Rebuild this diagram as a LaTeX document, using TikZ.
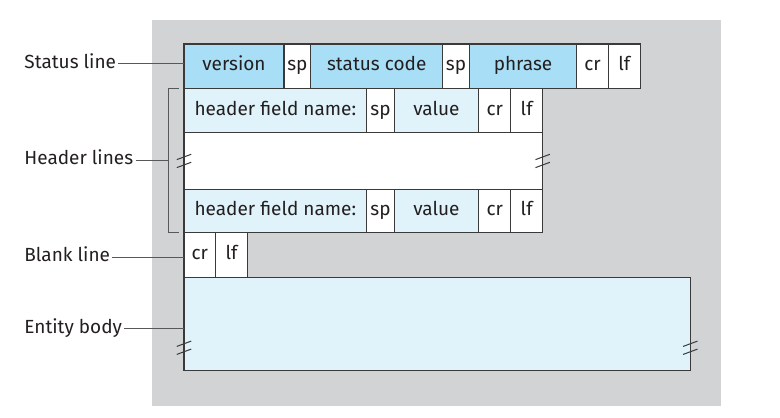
\documentclass[tikz,border=0pt]{standalone}
\usepackage{fontspec}
\setmainfont{Fira Sans}
\usetikzlibrary{positioning}
\definecolor{bggray}{HTML}{D1D3D4}
\definecolor{statblue}{HTML}{A9DEF7}
\definecolor{hdrblue}{HTML}{E0F3FA}
\definecolor{ink}{HTML}{231F20}
\definecolor{rule}{HTML}{3A3A3A}

\begin{document}
\begin{tikzpicture}[
  x=1pt,y=1pt,
  cell/.style={draw=rule,line width=0.6pt,minimum height=22.2pt,inner sep=0pt,
    outer sep=0pt,text=ink,anchor=west,text height=6.5pt,text depth=2pt,
    font=\fontsize{9.5}{11}\selectfont},
  status/.style={cell,fill=statblue},
  hdr/.style={cell,fill=hdrblue},
  plain/.style={cell,fill=white},
  tag/.style={text=ink,anchor=west,inner sep=1pt,text height=6.5pt,text depth=2pt,
    font=\fontsize{9.5}{11}\selectfont},
  lead/.style={draw=rule!85,line width=0.5pt},
  brk/.style={draw=rule,line width=0.5pt},
  breakmark/.pic={
    \draw[brk] (-3.6,0.67) -- (3.6,3.33);
    \draw[brk] (-3.6,-3.33) -- (3.6,-0.67);}
]
\useasboundingbox (0,0) rectangle (390,-208.5);
\fill[bggray] (76,-10) rectangle (360.5,-203);

\node[status,minimum width=50pt] (version) at (92,-33.1) {version};
\node[plain,minimum width=13.35pt,right=0pt of version] (sp1) {sp};
\node[status,minimum width=66pt,right=0pt of sp1] (code) {status code};
\node[plain,minimum width=13.3pt,right=0pt of code] (sp2) {sp};
\node[status,minimum width=53.7pt,right=0pt of sp2] (phrase) {phrase};
\node[plain,minimum width=15.8pt,right=0pt of phrase] (scr) {cr};
\node[plain,minimum width=16pt,right=0pt of scr] (slf) {lf};

\node[hdr,minimum width=91.35pt,anchor=north west] (hfn1) at (version.south west) {header field name:};
\node[plain,minimum width=13.8pt,right=0pt of hfn1] (hsp1) {sp};
\node[hdr,minimum width=42.2pt,right=0pt of hsp1] (val1) {value};
\node[plain,minimum width=16pt,right=0pt of val1] (hcr1) {cr};
\node[plain,minimum width=16pt,right=0pt of hcr1] (hlf1) {lf};

\node[plain,minimum width=179.35pt,minimum height=28.15pt,anchor=north west] (gap) at (hfn1.south west) {};

\node[hdr,minimum width=91.35pt,minimum height=21.85pt,anchor=north west] (hfn2) at (gap.south west) {header field name:};
\node[plain,minimum width=13.8pt,minimum height=21.85pt,right=0pt of hfn2] (hsp2) {sp};
\node[hdr,minimum width=42.2pt,minimum height=21.85pt,right=0pt of hsp2] (val2) {value};
\node[plain,minimum width=16pt,minimum height=21.85pt,right=0pt of val2] (hcr2) {cr};
\node[plain,minimum width=16pt,minimum height=21.85pt,right=0pt of hcr2] (hlf2) {lf};

\node[plain,minimum width=15.85pt,minimum height=22.3pt,anchor=north west] (bcr) at (hfn2.south west) {cr};
\node[plain,minimum width=15.8pt,minimum height=22.3pt,right=0pt of bcr] (blf) {lf};

\node[hdr,minimum width=253.15pt,minimum height=46.35pt,anchor=north west] (body) at (bcr.south west) {};

\pic at (gap.west) {breakmark};
\pic at (gap.east) {breakmark};
\pic at ([yshift=-12pt]body.west) {breakmark};
\pic at ([yshift=-12pt]body.east) {breakmark};

\node[tag] (statuslbl) at (11,-32) {Status line};
\node[tag] (hdrlbl) at (11,-80) {Header lines};
\node[tag] (blanklbl) at (11,-128.7) {Blank line};
\node[tag] (bodylbl) at (11,-164.3) {Entity body};

\coordinate (brtop) at ([xshift=-8pt]hfn1.north west);
\draw[lead] ([xshift=-2.7pt]hfn1.north west) -| ([xshift=-8pt]hfn2.south west)
  -- ([xshift=-2.7pt]hfn2.south west);
\draw[lead] (statuslbl.east) -- (statuslbl.east -| version.west);
\draw[lead] (hdrlbl.east) -- (hdrlbl.east -| brtop);
\draw[lead] (blanklbl.east) -- (blanklbl.east -| bcr.west);
\draw[lead] (bodylbl.east) -- (bodylbl.east -| body.west);
\end{tikzpicture}
\end{document}
